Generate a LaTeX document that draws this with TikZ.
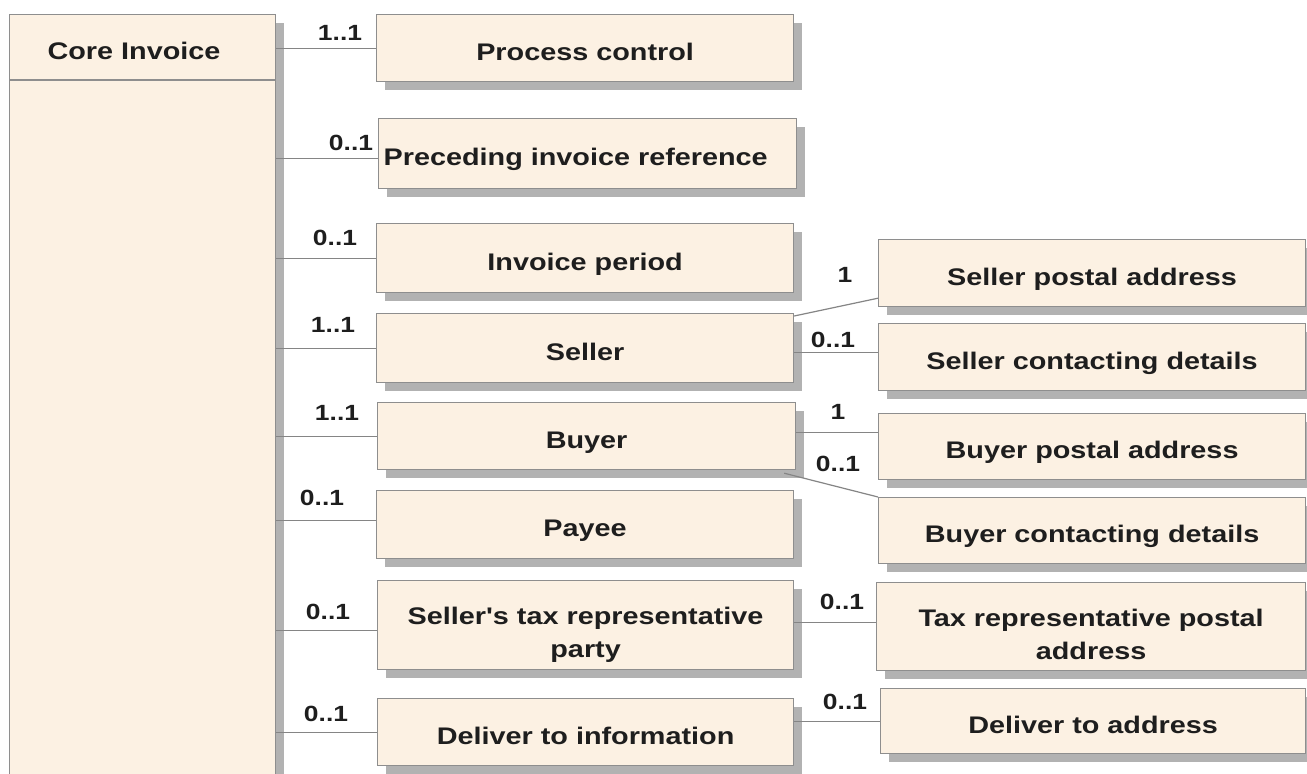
\documentclass[tikz,border=0pt]{standalone}
\usepackage{fontspec}
\newfontfamily\umlfont[FakeStretch=1.2]{Liberation Sans}
\usetikzlibrary{shadows}
\definecolor{boxfill}{HTML}{FCF1E3}
\definecolor{boxline}{HTML}{8E8E8E}
\definecolor{linkline}{HTML}{858585}
\definecolor{textcol}{HTML}{1E1E1E}
\tikzset{
  umlbox/.style={rectangle,draw=boxline,fill=boxfill,line width=1.2pt,anchor=north west,
    align=center,inner sep=2pt,text=textcol,font=\umlfont\bfseries\fontsize{24}{33}\selectfont,
    text height=26pt,text depth=2pt,
    drop shadow={shadow xshift=8pt,shadow yshift=-8pt,fill=black,opacity=.3}},
  twoline/.style={text height=67pt,text depth=2pt},
  mult/.style={text=textcol,inner sep=0pt,font=\umlfont\bfseries\fontsize{22}{26}\selectfont},
  link/.style={draw=linkline,line width=1.2pt}
}
\begin{document}
\begin{tikzpicture}[x=1pt,y=-1pt]
\useasboundingbox[fill=white] (0,0) rectangle (1307,774);

\node[umlbox,minimum width=266pt,minimum height=790pt] (core) at (9,14) {};
\node[text=textcol,font=\umlfont\bfseries\fontsize{24}{33}\selectfont] (coretitle) at (134,51) {Core Invoice};
\draw[draw=boxline,line width=1.2pt] (core.west |- 0,80) -- (core.east |- 0,80);

\node[umlbox,minimum width=417pt,minimum height=67pt] (pc) at (376,14) {Process control};
\node[umlbox,minimum width=418pt,minimum height=70pt,align=left,text width=408pt] (pre) at (378,118) {Preceding invoice reference};
\node[umlbox,minimum width=417pt,minimum height=69pt] (per) at (376,223) {Invoice period};
\node[umlbox,minimum width=417pt,minimum height=69pt] (sell) at (376,313) {Seller};
\node[umlbox,minimum width=418pt,minimum height=67pt] (buy) at (377,402) {Buyer};
\node[umlbox,minimum width=417pt,minimum height=68pt] (pay) at (376,490) {Payee};
\node[umlbox,twoline,minimum width=416pt,minimum height=89pt] (tax) at (377,580) {Seller's tax representative\\party};
\node[umlbox,minimum width=416pt,minimum height=67pt] (dti) at (377,698) {Deliver to information};

\node[umlbox,minimum width=427pt,minimum height=67pt] (spa) at (878,239) {Seller postal address};
\node[umlbox,minimum width=427pt,minimum height=67pt] (scd) at (878,323) {Seller contacting details};
\node[umlbox,minimum width=427pt,minimum height=66pt] (bpa) at (878,413) {Buyer postal address};
\node[umlbox,minimum width=427pt,minimum height=66pt] (bcd) at (878,497) {Buyer contacting details};
\node[umlbox,twoline,minimum width=429pt,minimum height=88pt] (trpa) at (876,582) {Tax representative postal\\address};
\node[umlbox,minimum width=425pt,minimum height=65pt] (dta) at (880,688) {Deliver to address};

% core invoice to its parts
\coordinate (preL) at ([yshift=-5pt]pre.west);
\coordinate (payL) at ([yshift=4pt]pay.west);
\coordinate (taxL) at ([yshift=-5.5pt]tax.west);
\draw[link] (core.east |- pc.west) -- (pc.west);
\draw[link] (core.east |- preL) -- (preL);
\draw[link] (core.east |- per.west) -- (per.west);
\draw[link] (core.east |- sell.west) -- (sell.west);
\draw[link] (core.east |- buy.west) -- (buy.west);
\draw[link] (core.east |- payL) -- (payL);
\draw[link] (core.east |- taxL) -- (taxL);
\draw[link] (core.east |- dti.west) -- (dti.west);

% second level
\coordinate (sellNE) at ([yshift=-3pt]sell.north east);
\coordinate (sellR) at ([yshift=-4.5pt]sell.east);
\coordinate (buyR) at ([yshift=3.5pt]buy.east);
\coordinate (taxR) at ([yshift=2.5pt]tax.east);
\draw[link] (sellNE) -- ([yshift=9pt]spa.south west);
\draw[link] (sellR) -- (sellR -| scd.west);
\draw[link] (buyR) -- (buyR -| bpa.west);
\draw[link] ([xshift=-12pt,yshift=-3pt]buy.south east) -- (bcd.north west);
\draw[link] (taxR) -- (taxR -| trpa.west);
\draw[link] (dti.east |- dta.west) -- (dta.west);

\node[mult] (m1) at (340,33) {1..1};
\node[mult] (m2) at (351,143) {0..1};
\node[mult] (m3) at (335,238) {0..1};
\node[mult] (m4) at (333,325) {1..1};
\node[mult] (m5) at (337,413) {1..1};
\node[mult] (m6) at (322,498) {0..1};
\node[mult] (m7) at (328,612) {0..1};
\node[mult] (m8) at (326,714) {0..1};

\node[mult] (m9) at (845,275) {1};
\node[mult] (m10) at (833,340) {0..1};
\node[mult] (m11) at (838,412) {1};
\node[mult] (m12) at (838,464) {0..1};
\node[mult] (m13) at (842,602) {0..1};
\node[mult] (m14) at (845,702) {0..1};

\end{tikzpicture}
\end{document}
